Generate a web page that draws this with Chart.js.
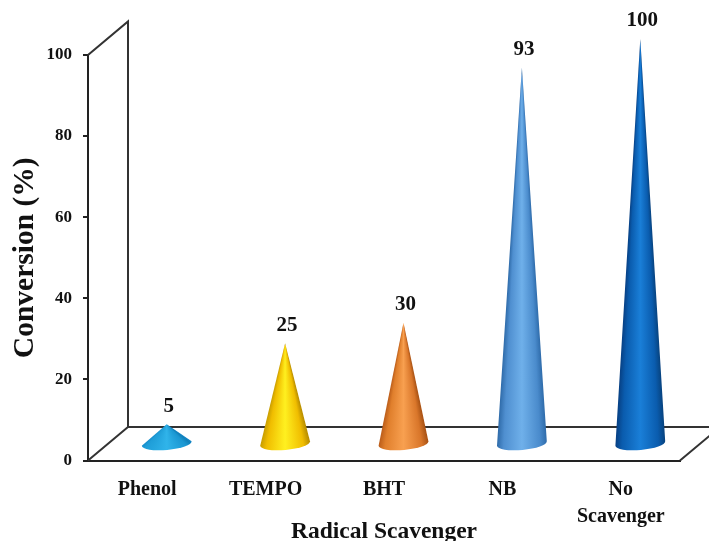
<!DOCTYPE html>
<html>
<head>
<meta charset="utf-8">
<title>Conversion by radical scavenger</title>
<script src="https://cdn.jsdelivr.net/npm/chart.js@4/dist/chart.umd.min.js"></script>
<style>
    html, body { margin: 0; padding: 0; background: #fff; }
    canvas { display: block; }
</style>
</head>
<body>
<canvas id="coneChart" width="709" height="541"></canvas>
<script>
const categories = ['Phenol', 'TEMPO', 'BHT', 'NB', ['No', 'Scavenger']];
const conversion = [5, 25, 30, 93, 100];
const yTicks = [0, 20, 40, 60, 80, 100];

// shading across each cone, left edge to right edge
const coneColors = [
    ['#1184c4', '#1f9ed8', '#30b4ea', '#1b97d2', '#0f7fb8'],
    ['#c49a00', '#f0bd00', '#fff020', '#f0bd00', '#b88d00'],
    ['#b85a18', '#e07f2c', '#f8a050', '#d9762a', '#a85214'],
    ['#2e6aa8', '#4f8fd0', '#6fb0ea', '#4a8bcc', '#2f6cab'],
    ['#073f82', '#0a5cae', '#1a7fd8', '#0a5cae', '#07437f']
];
const shadeStops = [0, 0.14, 0.5, 0.86, 1];

const serif = '"Liberation Serif", serif';
const lineColor = '#222';
const depthX = 40;
const depthY = 33.5;

const wallsAndCones = {
    id: 'wallsAndCones',
    beforeDatasetsDraw(chart) {
        const ctx = chart.ctx;
        const y = chart.scales.y;
        const x = chart.scales.x;
        const top = y.getPixelForValue(100);
        const zero = y.getPixelForValue(0);

        ctx.save();
        ctx.strokeStyle = '#333';
        ctx.lineWidth = 2;
        ctx.beginPath();
        ctx.moveTo(x.left, top);
        ctx.lineTo(x.left + depthX, top - depthY);
        ctx.lineTo(x.left + depthX, zero - depthY);
        ctx.moveTo(x.left, zero);
        ctx.lineTo(x.left + depthX, zero - depthY);
        ctx.lineTo(x.right + depthX, zero - depthY);
        ctx.moveTo(x.right, zero);
        ctx.lineTo(x.right + depthX, zero - depthY);
        ctx.stroke();
        ctx.restore();
    },
    afterDatasetsDraw(chart) {
        const ctx = chart.ctx;
        const bars = chart.getDatasetMeta(0).data;

        bars.forEach((bar, i) => {
            const cx = bar.x + 19.5;
            const tip = bar.y - 16;
            const base = bar.base - 16;
            const rx = 25;
            const ry = 6.5;
            const h = base - tip;

            // shading fans out from the tip of the cone
            const startAngle = Math.atan2(h, rx);
            const gradient = ctx.createConicGradient(startAngle, cx, tip);
            shadeStops.forEach((u, s) => {
                const angle = Math.atan2(h, rx * (2 * u - 1));
                gradient.addColorStop((angle - startAngle) / (2 * Math.PI), coneColors[i][s]);
            });
            gradient.addColorStop(1, coneColors[i][0]);

            ctx.save();
            ctx.fillStyle = gradient;
            ctx.beginPath();
            ctx.moveTo(cx, tip);
            ctx.ellipse(cx, base, rx, ry, -0.09, Math.PI, 0, true);
            ctx.closePath();
            ctx.fill();

            ctx.fillStyle = '#111';
            ctx.font = 'bold 21px ' + serif;
            ctx.textAlign = 'center';
            ctx.textBaseline = 'middle';
            ctx.fillText(conversion[i], cx + 2, tip - 18);
            ctx.restore();
        });
    }
};

new Chart(document.getElementById('coneChart'), {
    type: 'bar',
    data: {
        labels: categories,
        datasets: [{
            label: 'Conversion (%)',
            data: conversion,
            backgroundColor: 'rgba(0,0,0,0)',
            borderWidth: 0
        }]
    },
    options: {
        responsive: false,
        animation: false,
        layout: {
            autoPadding: false,
            padding: { top: 55, right: 29, left: 0, bottom: 0 }
        },
        plugins: {
            legend: { display: false },
            tooltip: { enabled: false }
        },
        scales: {
            x: {
                grid: { display: false, drawTicks: false },
                border: { color: lineColor, width: 2 },
                ticks: {
                    color: '#111',
                    padding: 16,
                    maxRotation: 0,
                    autoSkip: false,
                    font: { family: serif, size: 20, weight: 'bold', lineHeight: 1.35 }
                },
                title: {
                    display: true,
                    text: 'Radical Scavenger',
                    color: '#111',
                    padding: { top: 0, bottom: 0 },
                    font: { family: serif, size: 23.5, weight: 'bold', lineHeight: 0.8 }
                },
                afterFit(scale) { scale.height = 80.5; }
            },
            y: {
                min: 0,
                max: 100,
                afterBuildTicks(scale) { scale.ticks = yTicks.map(v => ({ value: v })); },
                grid: { color: lineColor, lineWidth: 2, drawOnChartArea: false, tickLength: 5 },
                border: { color: lineColor, width: 2 },
                ticks: {
                    color: '#111',
                    padding: 11,
                    font: { family: serif, size: 17, weight: 'bold' }
                },
                title: {
                    display: true,
                    text: 'Conversion (%)',
                    color: '#111',
                    padding: { top: 8, bottom: 0 },
                    font: { family: serif, size: 29.5, weight: 'bold', lineHeight: 1.2 }
                },
                afterFit(scale) { scale.width = 88; }
            }
        }
    },
    plugins: [wallsAndCones]
});
</script>
</body>
</html>
